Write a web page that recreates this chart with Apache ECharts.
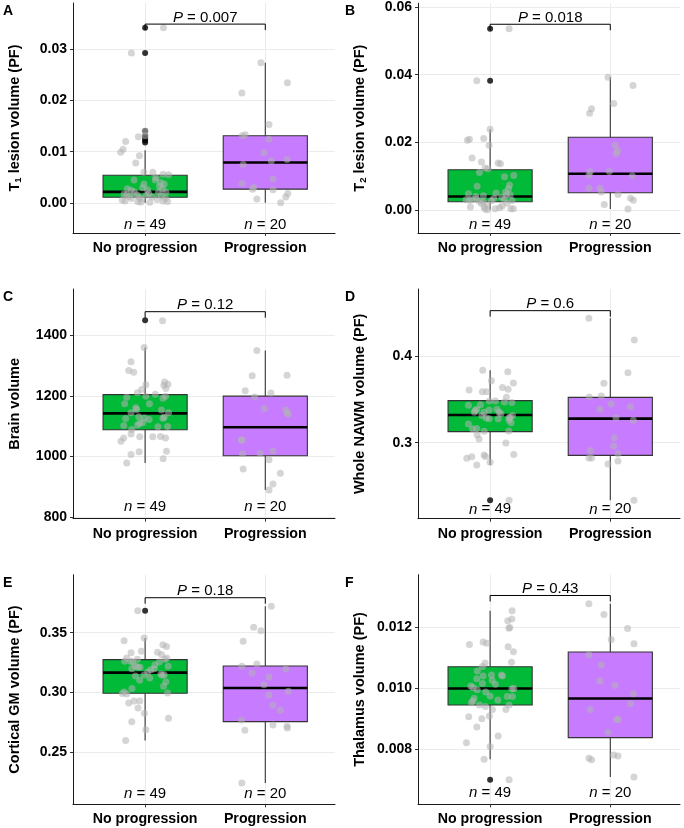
<!DOCTYPE html>
<html><head><meta charset="utf-8">
<script src="https://cdn.jsdelivr.net/npm/echarts@6/dist/echarts.min.js"></script>
<style>html,body{margin:0;padding:0;background:#fff}#c{width:684px;height:828px}</style>
</head><body><div id="c"></div>
<script>
// ---------------- data ----------------
const categories = ['No progression', 'Progression'];
const groupSizes = [49, 20];
const panelLetters = ['A', 'B', 'C', 'D', 'E', 'F'];
const pValues = ['0.007', '0.018', '0.12', '0.6', '0.18', '0.43'];

// y tick values and labels per panel
const ticksA = [0, 0.01, 0.02, 0.03];         const tickLabelsA = ['0.00', '0.01', '0.02', '0.03'];
const ticksB = [0, 0.02, 0.04, 0.06];         const tickLabelsB = ['0.00', '0.02', '0.04', '0.06'];
const ticksC = [800, 1000, 1200, 1400];       const tickLabelsC = ['800', '1000', '1200', '1400'];
const ticksD = [0.3, 0.4];                    const tickLabelsD = ['0.3', '0.4'];
const ticksE = [0.25, 0.30, 0.35];            const tickLabelsE = ['0.25', '0.30', '0.35'];
const ticksF = [0.008, 0.010, 0.012];         const tickLabelsF = ['0.008', '0.010', '0.012'];

// box statistics: [lower whisker, Q1, median, Q3, upper whisker] for [No progression, Progression]
const boxA = [[0.0001, 0.00116, 0.0022, 0.00543, 0.0103], [0.0001, 0.00272, 0.0079, 0.0131, 0.0273]];
const boxB = [[0.0001, 0.00245, 0.0040, 0.0119, 0.0239], [0.0003, 0.0051, 0.0107, 0.0215, 0.0392]];
const boxC = [[978, 1088, 1142, 1204, 1360], [889, 1002, 1096, 1199, 1350]];
const boxD = [[0.2742, 0.3127, 0.3319, 0.3485, 0.3835], [0.2335, 0.2854, 0.3277, 0.3523, 0.4435]];
const boxE = [[0.2595, 0.2992, 0.3165, 0.3274, 0.3455], [0.2240, 0.2754, 0.3036, 0.3221, 0.3721]];
const boxF = [[0.00768, 0.00946, 0.0100, 0.01071, 0.01254], [0.00710, 0.00839, 0.00967, 0.01119, 0.01277]];

// outliers (No progression group only)
const outA = [0.0341, 0.0292, 0.0140, 0.0131, 0.0126, 0.0122, 0.0118];
const outB = [0.0536, 0.0382];
const outC = [1450];
const outD = [0.2335];
const outE = [0.3684];
const outF = [0.00701];

// jittered observations: [jitter offset from category, value]
const ptsA1 = [[0.153,0.0341],[-0.114,0.0292],[-0.162,0.0120],[-0.183,0.0105],[-0.203,0.0099],[-0.056,0.0129],[0.0,0.0140],[-0.047,0.0092],[-0.078,0.0078],[-0.01,0.0060],[0.064,0.0060],[0.150,0.0056],[0.195,0.0055],[-0.092,0.0045],[-0.01,0.0037],[0.084,0.0045],[0.128,0.0040],[0.159,0.0037],[-0.148,0.0028],[-0.117,0.0025],[-0.175,0.0018],[-0.153,0.0016],[-0.067,0.0016],[0.008,0.0015],[0.111,0.0021],[0.145,0.0028],[0.173,0.0021],[0.134,0.0014],[-0.114,0.0009],[-0.031,0.0008],[-0.167,0.0004],[-0.061,0.0003],[0.039,0.0002],[0.150,0.0004],[0.187,0.0003],[-0.036,0.0002],[-0.09,0.0022],[0.03,0.0019],[0.06,0.0012],[-0.13,0.0013],[0.10,0.0007],[-0.02,0.0030],[0.12,0.0033],[-0.19,0.0006],[0.02,0.0026],[0.17,0.0009],[-0.05,0.0011],[0.0,0.0131],[0.09,0.0050]];
const ptsA2 = [[-0.036,0.0273],[0.184,0.0234],[-0.195,0.0214],[0.031,0.0153],[-0.192,0.0131],[-0.167,0.0133],[0.031,0.0124],[-0.011,0.0098],[0.181,0.0085],[-0.184,0.0075],[0.050,0.0082],[0.064,0.0047],[-0.195,0.0038],[-0.097,0.0031],[-0.106,0.0027],[0.064,0.0026],[0.187,0.0019],[0.170,0.0012],[-0.070,0.0008],[0.128,0.0001]];
const ptsB1 = [[0.158,0.0536],[-0.111,0.0382],[0.0,0.0239],[-0.008,0.0191],[-0.189,0.0206],[-0.172,0.0209],[-0.053,0.0211],[-0.15,0.0154],[-0.072,0.0142],[-0.042,0.0124],[-0.017,0.0122],[0.067,0.0139],[0.086,0.0137],[-0.089,0.0111],[0.197,0.0102],[-0.108,0.0070],[0.161,0.0074],[0.153,0.0063],[0.128,0.0053],[0.167,0.0045],[-0.056,0.0042],[0.136,0.0045],[0.097,0.0038],[0.119,0.0032],[0.183,0.0028],[-0.2,0.0030],[-0.172,0.0029],[-0.15,0.0030],[-0.114,0.0033],[0.011,0.0027],[-0.056,0.0024],[-0.164,0.0009],[-0.05,0.0009],[-0.042,0.0003],[-0.022,0.0001],[0.042,0.0004],[0.172,0.0004],[0.194,0.0004],[-0.072,0.0019],[-0.12,0.0040],[0.05,0.0050],[0.10,0.0012],[-0.02,0.0015],[0.14,0.0020],[-0.18,0.0048],[0.03,0.0035],[-0.09,0.0026],[0.08,0.0007],[0.12,0.0098]];
const ptsB2 = [[-0.019,0.0392],[0.189,0.0368],[0.028,0.0315],[-0.156,0.0299],[-0.172,0.0286],[0.039,0.0191],[0.061,0.0175],[0.047,0.0166],[-0.167,0.0113],[-0.178,0.0103],[-0.008,0.0114],[0.183,0.0101],[-0.178,0.0064],[-0.086,0.0064],[-0.075,0.0053],[0.064,0.0046],[0.169,0.0035],[0.192,0.0029],[-0.05,0.0016],[0.147,0.0003]];
const ptsC1 = [[0.145,1448],[-0.008,1360],[-0.117,1313],[-0.136,1284],[-0.095,1278],[0.006,1237],[-0.028,1221],[-0.064,1210],[0.162,1246],[0.156,1235],[0.19,1238],[0.173,1224],[-0.153,1195],[0.006,1199],[0.084,1205],[0.148,1192],[0.170,1199],[-0.170,1174],[0.036,1174],[-0.078,1161],[-0.070,1155],[0.136,1153],[-0.117,1144],[0.195,1144],[-0.053,1131],[-0.162,1125],[-0.006,1127],[0.148,1126],[0.159,1129],[-0.045,1109],[-0.020,1111],[-0.064,1104],[-0.178,1102],[0.106,1098],[0.187,1099],[-0.111,1089],[-0.117,1074],[-0.045,1065],[0.064,1065],[0.128,1066],[0.170,1061],[-0.178,1061],[-0.201,1050],[-0.050,1015],[0.178,1017],[-0.117,1006],[0.150,992],[-0.153,978],[0.033,1122]];
const ptsC2 = [[-0.070,1350],[-0.109,1266],[0.181,1268],[-0.167,1217],[-0.089,1196],[0.047,1209],[-0.008,1158],[0.170,1153],[0.181,1143],[0.192,1139],[-0.198,1055],[-0.195,1053],[-0.189,1009],[-0.042,1010],[0.064,1018],[0.031,989],[-0.184,958],[0.125,944],[0.064,909],[0.031,889]];
const ptsD1 = [[0.158,0.2335],[-0.061,0.3835],[0.147,0.3819],[0.011,0.3715],[0.194,0.3688],[0.103,0.3638],[0.150,0.3615],[-0.175,0.3608],[-0.064,0.3588],[-0.028,0.3588],[-0.006,0.3481],[0.044,0.3481],[0.136,0.3523],[0.181,0.3465],[-0.181,0.3431],[-0.081,0.3438],[-0.111,0.3385],[-0.131,0.3350],[-0.05,0.3350],[-0.069,0.3315],[-0.008,0.3277],[0.067,0.3277],[0.089,0.3335],[0.186,0.3315],[0.167,0.3292],[0.158,0.3258],[0.175,0.3231],[-0.181,0.3215],[-0.147,0.3162],[-0.111,0.3165],[-0.05,0.3131],[0.156,0.3135],[-0.108,0.3092],[-0.092,0.3042],[0.131,0.2996],[-0.05,0.2858],[-0.039,0.2842],[-0.153,0.2838],[-0.194,0.2819],[0.197,0.2865],[0.0,0.2773],[-0.111,0.2742],[-0.033,0.3285],[0.119,0.3469],[0.056,0.3385],[-0.008,0.3377],[0.158,0.3288],[0.075,0.3354],[-0.125,0.3370]];
const ptsD2 = [[-0.178,0.4435],[0.2,0.4185],[0.147,0.3808],[-0.053,0.3685],[-0.175,0.3527],[-0.075,0.3538],[0.008,0.3446],[-0.086,0.3385],[0.167,0.3415],[0.047,0.3288],[0.192,0.3258],[0.033,0.3058],[0.028,0.2962],[0.064,0.2873],[-0.167,0.2908],[-0.178,0.2823],[-0.156,0.2823],[0.064,0.2788],[-0.019,0.2754],[0.197,0.2335]];
const ptsE1 = [[-0.061,0.3684],[-0.008,0.3455],[-0.175,0.3433],[-0.117,0.3332],[-0.031,0.3344],[0.148,0.3399],[0.178,0.3383],[0.103,0.3335],[0.136,0.3316],[-0.153,0.3288],[-0.064,0.3277],[0.164,0.3277],[0.181,0.3288],[-0.170,0.3260],[-0.120,0.3260],[0.081,0.3229],[0.192,0.3218],[-0.111,0.3198],[-0.061,0.3212],[-0.042,0.3209],[0.047,0.3190],[0.022,0.3170],[-0.008,0.3145],[-0.081,0.3137],[0.131,0.3154],[0.159,0.3148],[0.142,0.3142],[-0.045,0.3101],[0.173,0.3089],[0.153,0.3050],[-0.109,0.3031],[-0.175,0.3003],[-0.153,0.2986],[0.187,0.2994],[-0.092,0.2927],[-0.045,0.2927],[-0.136,0.2911],[-0.059,0.2869],[-0.006,0.2824],[0.195,0.2782],[-0.111,0.2754],[0.006,0.2687],[-0.162,0.2595],[0.075,0.3198],[-0.081,0.3221],[0.117,0.3254],[-0.189,0.2989],[0.039,0.3120],[-0.103,0.3254]];
const ptsE2 = [[0.050,0.3721],[-0.097,0.3545],[-0.036,0.3517],[-0.184,0.3427],[-0.195,0.3218],[-0.070,0.3237],[-0.111,0.3162],[0.170,0.3196],[0.031,0.3128],[-0.011,0.3064],[0.192,0.3008],[0.031,0.2978],[0.064,0.2891],[0.125,0.2849],[-0.198,0.2768],[0.064,0.2726],[0.181,0.2715],[0.184,0.2701],[-0.170,0.2682],[-0.195,0.2240]];
const ptsF1 = [[0.158,0.00701],[0.183,0.01254],[0.147,0.01221],[0.181,0.01227],[0.156,0.01197],[0.164,0.01199],[-0.172,0.01144],[-0.058,0.01152],[-0.028,0.01148],[0.150,0.01136],[0.194,0.01120],[-0.042,0.01083],[0.178,0.01086],[-0.064,0.01072],[-0.106,0.01057],[0.011,0.01044],[0.094,0.01044],[0.103,0.01041],[-0.058,0.01041],[-0.111,0.01032],[0.017,0.01027],[-0.064,0.01016],[0.044,0.01014],[-0.161,0.01008],[-0.142,0.01003],[-0.108,0.00996],[0.181,0.00999],[0.197,0.01000],[0.0,0.00975],[0.142,0.00974],[0.186,0.00974],[-0.133,0.00968],[-0.156,0.00953],[-0.144,0.00959],[-0.089,0.00946],[-0.039,0.00941],[0.019,0.00931],[0.131,0.00931],[0.158,0.00946],[-0.006,0.00910],[-0.178,0.00907],[-0.069,0.00901],[-0.111,0.00874],[0.067,0.00844],[-0.197,0.00822],[0.0,0.00810],[-0.050,0.00768],[0.064,0.00962],[-0.036,0.00988]];
const ptsF2 = [[-0.178,0.01277],[-0.053,0.01242],[0.144,0.01196],[0.008,0.01160],[0.197,0.01146],[-0.178,0.01110],[-0.075,0.01077],[-0.086,0.01024],[0.039,0.01010],[0.192,0.00983],[0.169,0.00950],[-0.167,0.00931],[0.053,0.00898],[0.064,0.00898],[-0.019,0.00857],[-0.178,0.00772],[-0.156,0.00767],[0.028,0.00782],[0.064,0.00779],[0.197,0.00710]];

// ---------------- layout / style ----------------
const FONT = "'Liberation Sans', Arial, Helvetica, sans-serif";
const fills = ['#00BA38', '#C77CFF'];
const yNames = [
  '{b|T}{s|1}{b| lesion volume (PF)}',
  '{b|T}{s|2}{b| lesion volume (PF)}',
  '{b|Brain volume}',
  '{b|Whole NAWM volume (PF)}',
  '{b|Cortical GM volume (PF)}',
  '{b|Thalamus volume (PF)}'
];
const panels = [
  {box: boxA, out: outA, p1: ptsA1, p2: ptsA2, ticks: ticksA, labels: tickLabelsA, min: -0.0058, max: 0.0389, bracket: 0.0348, nY: -0.0043},
  {box: boxB, out: outB, p1: ptsB1, p2: ptsB2, ticks: ticksB, labels: tickLabelsB, min: -0.0068, max: 0.0611, bracket: 0.0549, nY: -0.0044},
  {box: boxC, out: outC, p1: ptsC1, p2: ptsC2, ticks: ticksC, labels: tickLabelsC, min: 794, max: 1553, bracket: 1478, nY: 834},
  {box: boxD, out: outD, p1: ptsD1, p2: ptsD2, ticks: ticksD, labels: tickLabelsD, min: 0.2123, max: 0.4773, bracket: 0.4523, nY: 0.2231},
  {box: boxE, out: outE, p1: ptsE1, p2: ptsE2, ticks: ticksE, labels: tickLabelsE, min: 0.2061, max: 0.3986, bracket: 0.3793, nY: 0.2151},
  {box: boxF, out: outF, p1: ptsF1, p2: ptsF2, ticks: ticksF, labels: tickLabelsF, min: 0.00621, max: 0.01372, bracket: 0.01304, nY: 0.00659}
];
const gridPos = [
  {left: 73, top: 3, h: 230}, {left: 418, top: 3, h: 230},
  {left: 73, top: 289, h: 229.7}, {left: 418, top: 289, h: 229.7},
  {left: 73, top: 574.7, h: 229.6}, {left: 418, top: 574.7, h: 229.6}
];
const GRID_W = 262;

const option = {
  animation: false,
  backgroundColor: '#fff',
  textStyle: {fontFamily: FONT},
  title: [], grid: [], xAxis: [], yAxis: [], series: []
};

panels.forEach((pn, i) => {
  const g = gridPos[i];
  option.title.push({text: panelLetters[i], left: g.left - 70 - (i % 2 ? 3 : 0), top: g.top + 1,
    textStyle: {fontFamily: FONT, fontSize: 14, fontWeight: 'bold', color: '#000'}, padding: 0});
  option.grid.push({left: g.left, top: g.top, width: GRID_W, height: g.h, containLabel: false});
  option.xAxis.push({
    type: 'value', gridIndex: i, min: 0.4, max: 2.58,
    axisLine: {show: true, onZero: false, lineStyle: {color: '#1a1a1a', width: 1}},
    axisTick: {show: true, length: 3, customValues: [1, 2], lineStyle: {color: '#333'}},
    axisLabel: {customValues: [1, 2], formatter: v => categories[Math.round(v) - 1] || '',
      fontFamily: FONT, fontSize: 14.2, fontWeight: 'bold', color: '#000', margin: 8},
    splitLine: {show: true, lineStyle: {color: '#ebebeb', width: 1}}
  });
  option.yAxis.push({
    type: 'value', gridIndex: i, min: pn.min, max: pn.max,
    name: yNames[i], nameLocation: 'middle', nameGap: 50, nameRotate: 90,
    nameTextStyle: {rich: {
      b: {fontFamily: FONT, fontSize: 14.5, fontWeight: 'bold', color: '#000', lineHeight: 16},
      s: {fontFamily: FONT, fontSize: 9.5, fontWeight: 'bold', color: '#000', lineHeight: 8, verticalAlign: 'bottom'}
    }},
    axisLine: {show: true, onZero: false, lineStyle: {color: '#1a1a1a', width: 1}},
    axisTick: {show: true, length: 3, customValues: pn.ticks, lineStyle: {color: '#333'}},
    axisLabel: {customValues: pn.ticks, formatter: v => {
        const k = pn.ticks.findIndex(t => Math.abs(t - v) < 1e-9 * Math.max(1, Math.abs(t)));
        return k >= 0 ? pn.labels[k] : '';
      },
      fontFamily: FONT, fontSize: 14, fontWeight: 'bold', color: '#000', margin: 6},
    splitLine: {show: true, lineStyle: {color: '#ebebeb', width: 1}}
  });

  // boxes
  option.series.push({
    type: 'custom', xAxisIndex: i, yAxisIndex: i, z: 2, silent: true,
    data: pn.box.map((s, k) => [k + 1].concat(s)),
    encode: {x: 0, y: [1, 2, 3, 4, 5]},
    renderItem: (params, api) => {
      const x = api.value(0);
      const lo = api.coord([x, api.value(1)]);
      const q1 = api.coord([x, api.value(2)]);
      const md = api.coord([x, api.value(3)]);
      const q3 = api.coord([x, api.value(4)]);
      const hi = api.coord([x, api.value(5)]);
      const hw = api.size([0.35, 0])[0];
      const wStyle = {stroke: '#333', lineWidth: 1.1};
      return {type: 'group', children: [
        {type: 'line', shape: {x1: lo[0], y1: lo[1], x2: q1[0], y2: q1[1]}, style: wStyle},
        {type: 'line', shape: {x1: q3[0], y1: q3[1], x2: hi[0], y2: hi[1]}, style: wStyle},
        {type: 'rect', shape: {x: q1[0] - hw, y: q3[1], width: 2 * hw, height: q1[1] - q3[1]},
          style: {fill: fills[params.dataIndex], stroke: '#333', lineWidth: 1.1}},
        {type: 'line', shape: {x1: md[0] - hw, y1: md[1], x2: md[0] + hw, y2: md[1]},
          style: {stroke: '#000', lineWidth: 2.6}}
      ]};
    }
  });
  // outliers
  option.series.push({
    type: 'scatter', xAxisIndex: i, yAxisIndex: i, z: 3, silent: true,
    symbolSize: 6, itemStyle: {color: '#000'},
    data: pn.out.map(v => [1, v])
  });
  // jittered points
  option.series.push({
    type: 'scatter', xAxisIndex: i, yAxisIndex: i, z: 4, silent: true,
    symbolSize: 7, itemStyle: {color: '#b3b3b3', opacity: 0.55},
    data: pn.p1.map(p => [1 + p[0], p[1]]).concat(pn.p2.map(p => [2 + p[0], p[1]]))
  });
  // n labels
  option.series.push({
    type: 'custom', xAxisIndex: i, yAxisIndex: i, z: 5, silent: true,
    data: groupSizes.map((n, k) => [k + 1, pn.nY, n]),
    encode: {x: 0, y: 1},
    renderItem: (params, api) => {
      const c = api.coord([api.value(0), api.value(1)]);
      return {type: 'text', x: c[0], y: c[1], style: {
        text: '{i|n} = ' + api.value(2), align: 'center', verticalAlign: 'middle',
        fontFamily: FONT, fontSize: 15, fill: '#000',
        rich: {i: {fontFamily: FONT, fontSize: 15, fontStyle: 'italic', fill: '#000'}}
      }};
    }
  });
  // significance bracket
  option.series.push({
    type: 'custom', xAxisIndex: i, yAxisIndex: i, z: 5, silent: true,
    data: [[1, 2, pn.bracket]],
    encode: {x: [0, 1], y: 2},
    renderItem: (params, api) => {
      const a = api.coord([api.value(0), api.value(2)]);
      const b = api.coord([api.value(1), api.value(2)]);
      const tip = 6;
      return {type: 'group', children: [
        {type: 'polyline', shape: {points: [[a[0], a[1] + tip], a, b, [b[0], b[1] + tip]]},
          style: {stroke: '#000', lineWidth: 1, fill: null}},
        {type: 'text', x: (a[0] + b[0]) / 2, y: a[1] + 1, style: {
          text: '{i|P} = ' + pValues[i], align: 'center', verticalAlign: 'bottom',
          fontFamily: FONT, fontSize: 15, fill: '#000',
          rich: {i: {fontFamily: FONT, fontSize: 15, fontStyle: 'italic', fill: '#000'}}
        }}
      ]};
    }
  });
});

const chart = echarts.init(document.getElementById('c'), null, {renderer: 'canvas'});
chart.setOption(option);
</script></body></html>
